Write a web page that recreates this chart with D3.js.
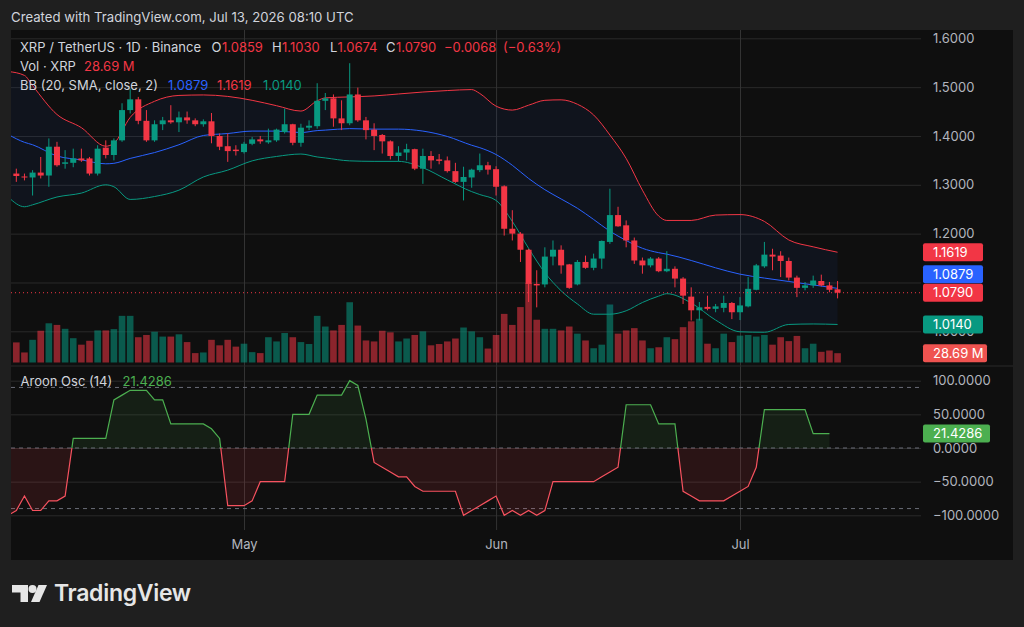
<!DOCTYPE html>
<html>
<head>
<meta charset="utf-8">
<script src="https://cdn.jsdelivr.net/npm/d3@7"></script>
<style>
  html, body { margin: 0; padding: 0; background: #1f1f1f; }
  svg { display: block; font-family: Inter, "Noto Sans", sans-serif; }
</style>
</head>
<body>
<svg id="chart" width="1024" height="627"></svg>
<script>
// XRP / USDT daily, Apr 3 - Jul 13 2026
const DAY = 86400000;
const firstDay = Date.UTC(2026, 3, 3);

const opens = [1.323,1.317,1.315,1.325,1.319,1.378,1.343,1.345,1.354,1.354,1.323,1.376,1.361,1.391,1.453,1.475,1.431,1.391,1.424,1.432,
  1.428,1.438,1.432,1.424,1.430,1.400,1.379,1.372,1.367,1.384,1.393,1.387,1.391,1.408,1.424,1.386,1.417,1.420,1.472,1.477,
  1.436,1.426,1.485,1.432,1.413,1.402,1.389,1.359,1.366,1.373,1.333,1.359,1.352,1.350,1.328,1.306,1.315,1.330,1.340,1.332,
  1.297,1.210,1.200,1.167,1.097,1.096,1.153,1.167,1.137,1.096,1.142,1.130,1.149,1.183,1.238,1.217,1.186,1.145,1.135,1.149,
  1.123,1.128,1.108,1.071,1.043,1.050,1.046,1.048,1.058,1.039,1.051,1.085,1.133,1.157,1.155,1.144,1.110,1.089,1.094,1.103,
  1.094,1.0859];
const highs = [1.333,1.323,1.330,1.357,1.395,1.388,1.371,1.374,1.374,1.357,1.381,1.391,1.395,1.467,1.497,1.480,1.453,1.432,1.439,1.463,
  1.450,1.450,1.436,1.434,1.447,1.405,1.405,1.381,1.388,1.398,1.400,1.415,1.415,1.456,1.425,1.425,1.432,1.508,1.488,1.485,
  1.473,1.549,1.499,1.439,1.426,1.404,1.391,1.379,1.384,1.374,1.374,1.369,1.363,1.358,1.345,1.337,1.333,1.364,1.347,1.338,
  1.299,1.248,1.203,1.169,1.125,1.172,1.186,1.176,1.138,1.146,1.155,1.159,1.186,1.292,1.255,1.227,1.192,1.151,1.152,1.152,
  1.164,1.133,1.111,1.090,1.060,1.073,1.056,1.073,1.060,1.070,1.111,1.138,1.183,1.169,1.164,1.151,1.114,1.101,1.114,1.116,
  1.101,1.1030];
const lows = [1.306,1.309,1.278,1.313,1.296,1.337,1.333,1.336,1.347,1.319,1.319,1.354,1.350,1.388,1.446,1.424,1.388,1.388,1.412,1.425,
  1.408,1.425,1.420,1.419,1.385,1.371,1.347,1.360,1.364,1.381,1.384,1.384,1.388,1.405,1.381,1.378,1.412,1.415,1.453,1.419,
  1.412,1.422,1.429,1.393,1.371,1.364,1.352,1.348,1.350,1.330,1.302,1.333,1.342,1.325,1.304,1.268,1.294,1.326,1.321,1.278,
  1.196,1.186,1.142,1.060,1.049,1.090,1.135,1.118,1.087,1.094,1.128,1.125,1.128,1.179,1.214,1.172,1.138,1.118,1.131,1.121,
  1.121,1.090,1.056,1.022,1.022,1.043,1.039,1.039,1.025,1.023,1.049,1.084,1.130,1.125,1.111,1.104,1.070,1.084,1.089,1.092,
  1.080,1.0674];
const closes = [1.318,1.315,1.325,1.319,1.378,1.340,1.346,1.354,1.350,1.323,1.374,1.361,1.391,1.453,1.475,1.431,1.391,1.424,1.432,1.428,
  1.438,1.432,1.424,1.430,1.400,1.378,1.369,1.369,1.384,1.393,1.389,1.391,1.413,1.424,1.386,1.417,1.421,1.472,1.477,1.436,
  1.426,1.485,1.432,1.412,1.400,1.389,1.359,1.366,1.373,1.333,1.359,1.350,1.349,1.328,1.306,1.316,1.331,1.340,1.331,1.296,
  1.210,1.200,1.167,1.097,1.094,1.153,1.167,1.135,1.089,1.142,1.130,1.149,1.185,1.238,1.215,1.186,1.145,1.135,1.149,1.123,
  1.128,1.108,1.073,1.043,1.049,1.046,1.051,1.058,1.039,1.053,1.087,1.135,1.157,1.153,1.144,1.110,1.089,1.094,1.104,1.094,
  1.085,1.0790];
// volume, millions of XRP
const volumes = [62,31,70,98,121,116,104,75,55,67,99,99,103,144,144,78,85,95,80,80,
  87,63,29,31,70,53,70,49,58,32,29,78,65,91,78,63,57,144,111,99,
  116,186,114,68,65,98,93,65,74,85,96,53,57,65,74,108,96,78,43,85,
  150,116,171,245,132,104,104,99,111,89,68,44,55,179,89,99,106,68,44,47,
  78,72,109,127,135,58,44,89,63,83,85,80,85,55,78,66,82,44,58,33,
  37,28.69];

// Bollinger bands (20, 2) read at these day offsets from the first candle
const bbDay = [-1,1,2,5,8,11,12,14,17,20,23,26,29,32,35,37,38,41,44,47,50,53,56,57,59,61,63,65,67,69,71,73,75,77,79,80,83,86,89,92,95,98,101];
const bbUpper = [1.532,1.524,1.503,1.444,1.417,1.379,1.385,1.438,1.471,1.483,1.484,1.481,1.473,1.462,1.451,1.472,1.478,1.480,1.482,1.486,1.490,1.493,1.495,1.487,1.461,1.453,1.463,1.473,1.474,1.465,1.443,1.402,1.354,1.289,1.236,1.227,1.227,1.238,1.239,1.225,1.187,1.173,1.1619];
const bbBasis = [1.403,1.387,1.382,1.359,1.351,1.343,1.344,1.354,1.366,1.382,1.401,1.405,1.410,1.410,1.407,1.411,1.412,1.415,1.414,1.414,1.410,1.399,1.381,1.376,1.362,1.340,1.313,1.290,1.271,1.252,1.229,1.205,1.186,1.170,1.161,1.158,1.145,1.130,1.117,1.109,1.102,1.095,1.0879];
const bbLower = [1.275,1.255,1.259,1.275,1.283,1.300,1.296,1.270,1.276,1.289,1.316,1.330,1.349,1.358,1.363,1.357,1.355,1.349,1.348,1.348,1.335,1.310,1.286,1.280,1.268,1.225,1.170,1.120,1.083,1.056,1.035,1.035,1.042,1.059,1.072,1.077,1.058,1.023,0.999,0.998,1.014,1.015,1.0140];

// Aroon oscillator (14), from day offset -1
const aroonStart = -1;
const aroon = [-100,-92.86,-71.43,-92.86,-92.86,-78.57,-78.57,-71.43,14.29,14.29,14.29,14.29,14.29,71.43,78.57,85.71,85.71,85.71,71.43,71.43,
  35.71,35.71,35.71,35.71,35.71,28.57,14.29,-85.71,-85.71,-85.71,-78.57,-50,-50,-50,-50,50,50,50,78.57,78.57,
  78.57,78.57,100,92.86,42.86,-21.43,-28.57,-35.71,-42.86,-42.86,-57.14,-64.29,-64.29,-64.29,-64.29,-64.29,-100,-92.86,-85.71,-78.57,
  -71.43,-100,-92.86,-100,-92.86,-100,-92.86,-50,-50,-50,-50,-50,-50,-42.86,-35.71,-28.57,64.29,64.29,64.29,64.29,
  35.71,35.71,35.71,-64.29,-71.43,-78.57,-78.57,-78.57,-78.57,-71.43,-64.29,-57.14,-28.57,57.14,57.14,57.14,57.14,57.14,57.14,21.43,
  21.43,21.4286];

const priceTicks = [1.0, 1.1, 1.2, 1.3, 1.4, 1.5, 1.6];
const priceLabels = [1.0, 1.2, 1.3, 1.4, 1.5, 1.6]; // 1.1000 sits under the price badges
const aroonTicks = [-100, -50, 0, 50, 100];
const aroonBands = [90, 0, -90];
const monthTicks = [Date.UTC(2026, 4, 1), Date.UTC(2026, 5, 1), Date.UTC(2026, 6, 1)].map(t => new Date(t));

const UP = '#089981', DOWN = '#f23645', BLUE = '#2962ff';
const GRID = '#2a2a2a', TEXT = '#d1d4dc', AXIS = '#b2b5be';

const svg = d3.select('#chart');
const dayToDate = d => new Date(firstDay + d * DAY);

const x = d3.scaleUtc().domain([monthTicks[0], monthTicks[2]]).range([244, 740]);
const y = d3.scaleLinear().domain([1.0, 1.6]).range([331.3, 38.3]);
const yVol = d3.scaleLinear().domain([0, 250]).range([362.5, 281.5]);
const yAr = d3.scaleLinear().domain([-100, 100]).range([515.3, 380.7]);

const plotL = 11, plotR = 921, plotT = 30, mainB = 366, arB = 530;

svg.append('rect').attr('width', 1024).attr('height', 627).attr('fill', '#1f1f1f');
svg.append('rect').attr('x', 11).attr('y', 30).attr('width', 1002).attr('height', 530).attr('fill', '#0f0f0f');

const defs = svg.append('defs');
defs.append('clipPath').attr('id', 'mainClip').append('rect')
  .attr('x', plotL).attr('y', plotT).attr('width', plotR - plotL).attr('height', mainB - plotT);
defs.append('clipPath').attr('id', 'arUp').append('rect')
  .attr('x', plotL).attr('y', mainB).attr('width', plotR - plotL).attr('height', yAr(0) - mainB);
defs.append('clipPath').attr('id', 'arDown').append('rect')
  .attr('x', plotL).attr('y', yAr(0)).attr('width', plotR - plotL).attr('height', arB - yAr(0));

// grids
svg.append('g').attr('transform', `translate(${plotL},0)`)
  .call(d3.axisRight(y).tickValues(priceTicks).tickSize(plotR - plotL).tickFormat(''))
  .call(g => g.select('.domain').remove())
  .selectAll('line').attr('stroke', GRID);
svg.append('g').attr('transform', `translate(${plotL},0)`)
  .call(d3.axisRight(yAr).tickValues(aroonTicks).tickSize(plotR - plotL).tickFormat(''))
  .call(g => g.select('.domain').remove())
  .selectAll('line').attr('stroke', GRID);
svg.append('g').attr('transform', `translate(0,${plotT})`)
  .call(d3.axisBottom(x).tickValues(monthTicks).tickSize(arB - plotT).tickFormat(''))
  .call(g => g.select('.domain').remove())
  .selectAll('line').attr('stroke', '#333');
svg.append('line').attr('x1', plotL).attr('x2', 1013).attr('y1', mainB).attr('y2', mainB).attr('stroke', GRID);

const candles = opens.map((o, i) => ({
  date: dayToDate(i), o, h: highs[i], l: lows[i], c: closes[i], v: volumes[i], up: closes[i] >= o
}));

const main = svg.append('g').attr('clip-path', 'url(#mainClip)');

// volume
main.append('g').selectAll('rect').data(candles).join('rect')
  .attr('x', d => x(d.date) - 3.3).attr('width', 6.6)
  .attr('y', d => yVol(d.v)).attr('height', d => yVol(0) - yVol(d.v))
  .attr('fill', d => d.up ? 'rgba(8,153,129,0.55)' : 'rgba(242,54,69,0.55)');

// bollinger bands
const bb = bbDay.map((d, i) => ({ date: dayToDate(d), u: bbUpper[i], m: bbBasis[i], l: bbLower[i] }));
main.append('path').datum(bb)
  .attr('fill', 'rgba(41,98,255,0.06)')
  .attr('d', d3.area().curve(d3.curveMonotoneX).x(d => x(d.date)).y0(d => y(d.l)).y1(d => y(d.u)));
[['u', DOWN], ['m', BLUE], ['l', UP]].forEach(([k, col]) => {
  main.append('path').datum(bb)
    .attr('fill', 'none').attr('stroke', col).attr('stroke-width', 1)
    .attr('d', d3.line().curve(d3.curveMonotoneX).x(d => x(d.date)).y(d => y(d[k])));
});

// candles
const cg = main.append('g').selectAll('g').data(candles).join('g');
cg.append('line')
  .attr('x1', d => x(d.date)).attr('x2', d => x(d.date))
  .attr('y1', d => y(d.h)).attr('y2', d => y(d.l))
  .attr('stroke', d => d.up ? UP : DOWN);
cg.append('rect')
  .attr('x', d => x(d.date) - 3).attr('width', 6)
  .attr('y', d => y(Math.max(d.o, d.c)))
  .attr('height', d => Math.max(1, Math.abs(y(d.o) - y(d.c))))
  .attr('fill', d => d.up ? UP : DOWN);

// last price line
const last = candles[candles.length - 1];
svg.append('line').attr('x1', plotL).attr('x2', plotR)
  .attr('y1', y(last.c)).attr('y2', y(last.c))
  .attr('stroke', DOWN).attr('stroke-dasharray', '1,3');

// aroon pane
svg.append('g').selectAll('line').data(aroonBands).join('line')
  .attr('x1', plotL).attr('x2', plotR)
  .attr('y1', d => yAr(d)).attr('y2', d => yAr(d))
  .attr('stroke', '#6a6d78').attr('stroke-dasharray', '4,4');

const ar = aroon.map((v, i) => ({ date: dayToDate(aroonStart + i), v }));
const arArea = d3.area().x(d => x(d.date)).y0(yAr(0)).y1(d => yAr(d.v));
const arLine = d3.line().x(d => x(d.date)).y(d => yAr(d.v));
[['arUp', '#4caf50', 'rgba(76,175,80,0.1)'], ['arDown', '#f7525f', 'rgba(242,54,69,0.12)']].forEach(([clip, col, fill]) => {
  const g = svg.append('g').attr('clip-path', `url(#${clip})`);
  g.append('path').datum(ar).attr('fill', fill).attr('d', arArea);
  g.append('path').datum(ar).attr('fill', 'none').attr('stroke', col).attr('stroke-width', 1.2).attr('d', arLine);
});

// axes
function axisText(g) {
  g.select('.domain').remove();
  g.selectAll('text').attr('fill', AXIS).style('font-size', '13px').style('font-family', 'Inter, sans-serif');
}
svg.append('g').attr('transform', 'translate(933,0)')
  .call(d3.axisRight(y).tickValues(priceLabels).tickSize(0).tickPadding(0).tickFormat(d3.format('.4f')))
  .call(axisText);
svg.append('g').attr('transform', 'translate(933,0)')
  .call(d3.axisRight(yAr).tickValues(aroonTicks).tickSize(0).tickPadding(0).tickFormat(d3.format('.4f')))
  .call(axisText);
svg.append('g').attr('transform', 'translate(0,540)')
  .call(d3.axisBottom(x).tickValues(monthTicks).tickSize(0).tickPadding(0).tickFormat(d3.utcFormat('%b')))
  .call(axisText);

function badge(yc, label, color, w) {
  svg.append('rect').attr('x', 923).attr('y', yc - 9).attr('width', w).attr('height', 18)
    .attr('rx', 2).attr('fill', color);
  svg.append('text').attr('x', 933).attr('y', yc).attr('dy', '0.35em')
    .attr('fill', '#fff').style('font-size', '13px').text(label);
}
badge(y(bbUpper[bbUpper.length - 1]), '1.1619', DOWN, 60);
badge(y(last.c) - 18.5, '1.0879', BLUE, 60);
badge(y(last.c), '1.0790', DOWN, 60);
badge(y(bbLower[bbLower.length - 1]), '1.0140', UP, 60);
badge(yVol(last.v), '28.69 M', '#ef5350', 64);
badge(yAr(aroon[aroon.length - 1]), '21.4286', '#4caf50', 67);

// legends
function label(xp, yc, str, color, size = 13) {
  svg.append('text').attr('x', xp).attr('y', yc).attr('dy', '0.35em')
    .attr('fill', color).style('font-size', size + 'px').text(str);
}
label(11, 17, 'Created with TradingView.com, Jul 13, 2026 08:10 UTC', TEXT, 13.2);
label(20, 47.5, 'XRP / TetherUS · 1D · Binance', TEXT);
[['O', 211.5, '1.0859', 222], ['H', 272, '1.1030', 282], ['L', 330, '1.0674', 337.5], ['C', 386, '1.0790', 396]]
  .forEach(([k, kx, v, vx]) => { label(kx, 47.5, k, TEXT); label(vx, 47.5, v, DOWN); });
label(444, 47.5, '−0.0068', DOWN);
label(503, 47.5, '(−0.63%)', DOWN);
label(20, 66.5, 'Vol · XRP', TEXT);
label(84, 66.5, '28.69 M', DOWN);
label(20, 85, 'BB (20, SMA, close, 2)', TEXT);
label(168, 85, '1.0879', BLUE);
label(217, 85, '1.1619', DOWN);
label(263, 85, '1.0140', UP);
label(20.5, 381.5, 'Aroon Osc (14)', TEXT);
label(122.5, 381.5, '21.4286', '#4caf50');

// logo
const logo = svg.append('g').attr('fill', '#e6e6e6');
logo.append('path').attr('d', 'M12,585h16v17h-7.5v-9.5h-8.5z');
logo.append('circle').attr('cx', 32.5).attr('cy', 589).attr('r', 4);
logo.append('path').attr('d', 'M38.5,585h8.5l-7.5,17h-8.5z');
svg.append('text').attr('x', 54).attr('y', 601).attr('fill', '#e6e6e6')
  .style('font-size', '23px').style('font-weight', 600).style('letter-spacing', '-0.3px').text('TradingView');
</script>
</body>
</html>
